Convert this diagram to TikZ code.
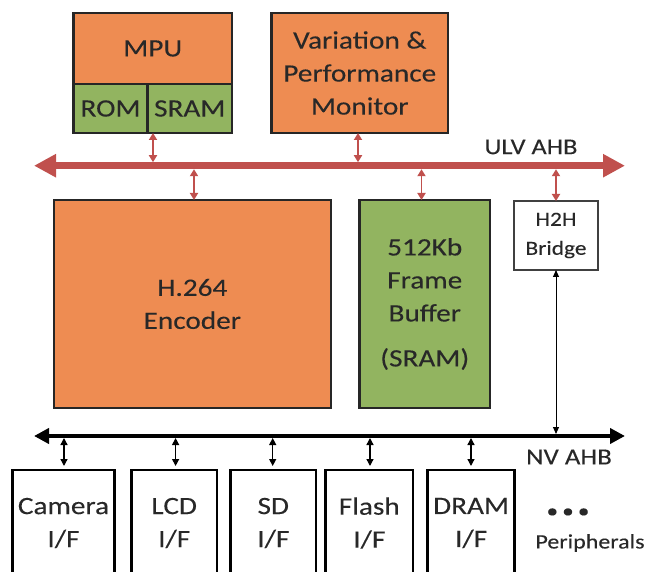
\documentclass[tikz,border=0pt]{standalone}
\usepackage{fontspec}
\setmainfont{Carlito}[FakeStretch=1.17,FakeBold=0.15]
\usetikzlibrary{arrows.meta}
\definecolor{orng}{RGB}{238,140,82}
\definecolor{grn}{RGB}{146,180,96}
\definecolor{busred}{RGB}{192,80,77}
\definecolor{txt}{RGB}{40,40,40}
\begin{document}
\begin{tikzpicture}[x=1pt,y=-1pt,
  blk/.style={draw=black!85,line width=2.2pt,inner sep=0pt,outer sep=0pt,align=center,text=txt,font=\fontsize{25}{33}\selectfont},
  pblk/.style={draw=black,line width=2.6pt,fill=white,inner sep=0pt,outer sep=0pt,align=center,text=txt,font=\fontsize{25}{33}\selectfont,minimum height=106pt},
  lbl/.style={text=txt,inner sep=0pt},
  smallred/.style={draw=busred,line width=1.8pt,{Triangle[width=8pt,length=7pt]}-{Triangle[width=8pt,length=7pt]}},
  smallblk/.style={draw=black,line width=1.3pt,{Triangle[width=7pt,length=7pt]}-{Triangle[width=7pt,length=7pt]}},
  ulvbus/.style={draw=busred,line width=7pt,{Triangle[width=22pt,length=22pt]}-{Triangle[width=22pt,length=22pt]}},
  nvbus/.style={draw=black,line width=4pt,{Triangle[width=15pt,length=15pt]}-{Triangle[width=15pt,length=15pt]}}
]
\useasboundingbox (0,0) rectangle (646,572);
\clip (0,0) rectangle (646,572);

% top blocks
\node[blk,fill=orng,minimum width=158.5pt,minimum height=71pt] (mpu) at (152.75,48.5) {MPU};
\node[blk,fill=grn,minimum width=74pt,minimum height=49pt] (rom) at (110.5,108.5) {ROM};
\node[blk,fill=grn,minimum width=84.5pt,minimum height=49pt] (sram) at (189.75,108.5) {SRAM};
\node[blk,fill=orng,minimum width=176.5pt,minimum height=120pt] (vpm) at (359.75,73) {Variation \&\\Performance\\Monitor};

% middle blocks
\node[blk,fill=orng,minimum width=276.6pt,minimum height=208pt] (enc) at (192.3,304) {H.264\\Encoder};
\node[blk,fill=grn,minimum width=130.5pt,minimum height=208pt] (fb) at (424.75,304) {512Kb\\Frame\\Buffer\\[12pt](SRAM)};
\node[blk,draw=black!75,line width=1.5pt,fill=white,minimum width=84pt,minimum height=69pt,font=\fontsize{20}{29}\selectfont] (h2h) at (556,235.5) {H2H\\Bridge};

% peripherals
\node[pblk,minimum width=102pt] (cam) at (63.5,523) {Camera\\I/F};
\node[pblk,minimum width=85.6pt] (lcd) at (174.2,523) {LCD\\I/F};
\node[pblk,minimum width=85.4pt] (sd) at (273.3,523) {SD\\I/F};
\node[pblk,minimum width=87.4pt] (fl) at (369.3,523) {Flash\\I/F};
\node[pblk,minimum width=86.8pt] (dram) at (471.1,523) {DRAM\\I/F};
\node[lbl,font=\fontsize{20}{20}\selectfont] (dots) at (568,513) {\textbullet\hspace{4pt}\textbullet\hspace{4pt}\textbullet};
\node[lbl,font=\fontsize{20.5}{20}\selectfont] (peri) at (590,543) {Peripherals};

% buses
\coordinate (ulvL) at (34,165.7);
\coordinate (ulvR) at (625,165.7);
\draw[ulvbus] (ulvL) -- (ulvR);
\node[lbl,font=\fontsize{22.5}{22}\selectfont] (ulvlbl) at (531,147) {ULV AHB};

\coordinate (nvL) at (34,436);
\coordinate (nvR) at (625,436);
\draw[nvbus] (nvL) -- (nvR);
\node[lbl,font=\fontsize{23}{22}\selectfont] (nvlbl) at (569,457) {NV AHB};

% ULV bus taps (top edge y=162.2, bottom edge y=169.2)
\coordinate (ut1) at (153,162.2);
\coordinate (ut2) at (358,162.2);
\coordinate (ub1) at (194,169.2);
\coordinate (ub2) at (421.5,169.2);
\coordinate (ub3) at (556,169.2);
\draw[smallred] (ut1 |- sram.south) -- (ut1);
\draw[smallred] (ut2 |- vpm.south) -- (ut2);
\draw[smallred] (ub1) -- (ub1 |- enc.north);
\draw[smallred] (ub2) -- (ub2 |- fb.north);
\draw[smallred] (ub3) -- (ub3 |- h2h.north);

% NV bus taps (top edge 434, bottom edge 438)
\coordinate (nt0) at (556,434);
\draw[draw=black,line width=1pt,{Triangle[width=6pt,length=7pt]}-{Triangle[width=6pt,length=7pt]}] (h2h.south) -- (nt0);
\coordinate (nb1) at (64,438);
\coordinate (nb2) at (175.6,438);
\coordinate (nb3) at (272.7,438);
\coordinate (nb4) at (370,438);
\coordinate (nb5) at (471,438);
\coordinate (ne) at (0,466);
\draw[smallblk] (nb1) -- (nb1 |- ne);
\draw[smallblk] (nb2) -- (nb2 |- ne);
\draw[smallblk] (nb3) -- (nb3 |- ne);
\draw[smallblk] (nb4) -- (nb4 |- ne);
\draw[smallblk] (nb5) -- (nb5 |- ne);
\end{tikzpicture}
\end{document}
